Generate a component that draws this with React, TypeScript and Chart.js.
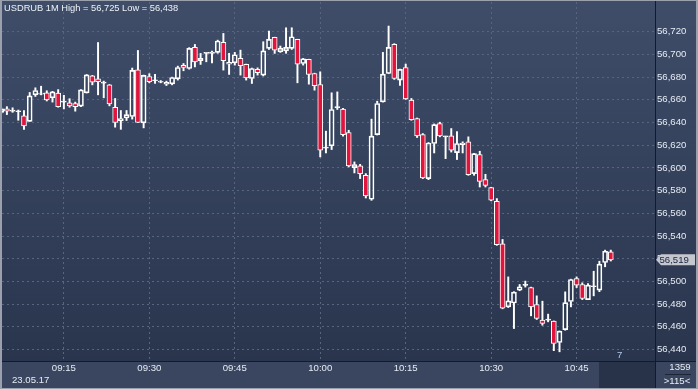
import React, { useEffect, useRef } from "react";
import { Chart, registerables } from "chart.js";

Chart.register(...registerables);

// ---------- data ----------
const times = [
  "09:04","09:05","09:06","09:07","09:08","09:09","09:10","09:11","09:12","09:13",
  "09:14","09:15","09:16","09:17","09:18","09:19","09:20","09:21","09:22","09:23",
  "09:24","09:25","09:26","09:27","09:28","09:29","09:30","09:31","09:32","09:33",
  "09:34","09:35","09:36","09:37","09:38","09:39","09:40","09:41","09:42","09:43",
  "09:44","09:45","09:46","09:47","09:48","09:49","09:50","09:51","09:52","09:53",
  "09:54","09:55","09:56","09:57","09:58","09:59","10:00","10:01","10:02","10:03",
  "10:04","10:05","10:06","10:07","10:08","10:09","10:10","10:11","10:12","10:13",
  "10:14","10:15","10:16","10:17","10:18","10:19","10:20","10:21","10:22","10:23",
  "10:24","10:25","10:26","10:27","10:28","10:29","10:30","10:31","10:32","10:33",
  "10:34","10:35","10:36","10:37","10:38","10:39","10:40","10:41","10:42","10:43",
  "10:44","10:45","10:46","10:47","10:48","10:49","10:50","10:51",
];

const opens = [
  56649, 56652, 56650, 56649.5, 56646, 56641, 56664.4, 56665.5, 56666.2, 56661.8,
  56666, 56658, 56657.4, 56656.8, 56654.4, 56666.2, 56681.2, 56678.5, 56674.7, 56673.2,
  56653.5, 56641.5, 56644, 56645.3, 56686.5, 56639.7, 56680.6, 56676.8, 56676, 56673.8,
  56674.1, 56678.5, 56690.3, 56687.6, 56706.2, 56694.4, 56700.9, 56701, 56701.8, 56710.6,
  56693, 56692.6, 56696.5, 56691.2, 56678.8, 56686.8, 56681.8, 56705.3, 56715, 56702.4,
  56703.2, 56705.3, 56713.2, 56692, 56695.6, 56683.2, 56673.5, 56617.4, 56619.4, 56653.2,
  56651.8, 56631.2, 56600.3, 56601.8, 56593.5, 56572.4, 56629.4, 56658.2, 56683.2, 56709,
  56677.4, 56688.5, 56659.7, 56643.5, 56629.4, 56590.6, 56621.5, 56639.1, 56627.4, 56628.2,
  56613.5, 56620.6, 56623, 56595, 56611.8, 56589.7, 56582.6, 56570.6, 56533.2, 56477.6,
  56481, 56492.4, 56496.5, 56494.6, 56479.7, 56465.9, 56465.9, 56465, 56446.2, 56457.6,
  56482.3, 56502.6, 56497.3, 56484, 56495.3, 56492.4, 56516.7, 56526,
];

const highs = [
  56653, 56654, 56653, 56651, 56650.5, 56666.5, 56670.6, 56672, 56668, 56667.5,
  56669, 56664, 56661, 56658, 56669, 56682.3, 56681.5, 56710.5, 56676.5, 56673.5,
  56661.2, 56650.6, 56650.6, 56688, 56703.5, 56681.8, 56683, 56682.5, 56677, 56676.5,
  56680, 56689.7, 56692, 56706, 56708.8, 56700.9, 56701.5, 56703, 56712.6, 56718.5,
  56701, 56701.8, 56703.8, 56691.5, 56688, 56688.2, 56711.2, 56720.6, 56715.2, 56707.4,
  56723.5, 56723.5, 56713.4, 56696.5, 56695.8, 56683.5, 56684.7, 56632.4, 56666.2, 56667,
  56652.5, 56633.2, 56605.3, 56603.2, 56595, 56643, 56658.8, 56701.8, 56725, 56709.5,
  56687, 56691.5, 56661.2, 56644, 56630.3, 56622.4, 56638.8, 56640.3, 56628, 56634.7,
  56632, 56623, 56627.4, 56612.8, 56614.7, 56594.4, 56583, 56573, 56537, 56504,
  56491, 56497.3, 56500.3, 56495, 56487.3, 56482.6, 56471.2, 56465.2, 56456.4, 56490.8,
  56502, 56504, 56498.8, 56498.2, 56509, 56517.8, 56527.6, 56527.6,
];

const lows = [
  56648, 56647, 56649, 56642, 56634, 56641, 56663, 56664.4, 56659, 56658,
  56653.5, 56652, 56653.5, 56650, 56654, 56666, 56673.2, 56664.4, 56661.8, 56654.7,
  56635.9, 56634, 56641.8, 56643, 56640, 56635.3, 56675, 56674.5, 56675, 56672.6,
  56673.2, 56677.4, 56685.6, 56687, 56689, 56691.2, 56693.5, 56692.6, 56701, 56686.2,
  56682.4, 56690.6, 56681.8, 56677.4, 56674.4, 56681.8, 56681, 56704.4, 56700.9, 56701.8,
  56701, 56704.4, 56675, 56690.6, 56673.8, 56668.5, 56609.7, 56613.2, 56616.2, 56651.5,
  56628, 56600.9, 56595.6, 56590.6, 56573.5, 56571.5, 56629, 56658, 56683, 56678,
  56672.6, 56660.3, 56642, 56626.8, 56590.6, 56589.7, 56613.2, 56627.4, 56608.2, 56614,
  56607.4, 56613.2, 56593.5, 56593.5, 56583.2, 56583.2, 56571, 56531.8, 56475.9, 56477,
  56458.5, 56491.8, 56495, 56469.7, 56466.5, 56461.4, 56464.4, 56439, 56438, 56457,
  56477.6, 56494.6, 56484, 56484, 56487.3, 56491, 56512.9, 56518,
];

const closes = [
  56652, 56650, 56650, 56649.5, 56637, 56663.5, 56668.2, 56665, 56660, 56667,
  56654, 56658, 56654.7, 56654, 56668.8, 56682, 56675.6, 56675.9, 56674.7, 56656.5,
  56640, 56643.5, 56647, 56685.9, 56640, 56681.5, 56675.9, 56676.8, 56675.5, 56675.5,
  56679.7, 56688.5, 56688.5, 56705.3, 56693.5, 56696.5, 56700.9, 56702, 56711.8, 56694.4,
  56691.5, 56699.7, 56690, 56679.4, 56687.6, 56684, 56703.2, 56713.2, 56703.8, 56705.6,
  56706.2, 56715.6, 56691.5, 56696.2, 56682.4, 56672.4, 56615.6, 56617.4, 56651.5, 56653.2,
  56629.4, 56601.8, 56603, 56595, 56575.3, 56628, 56656.8, 56682.6, 56706.2, 56678.8,
  56686.8, 56660.9, 56642.6, 56628.2, 56591.2, 56622, 56638.2, 56628.2, 56627.4, 56615.6,
  56621.5, 56622, 56594.1, 56612.6, 56588.2, 56584.7, 56571.5, 56532.4, 56476.5, 56482.9,
  56490.6, 56495.3, 56496.5, 56477.6, 56467.4, 56463, 56465.9, 56445.3, 56456.2, 56481.4,
  56501.7, 56496.8, 56485, 56496.8, 56495.3, 56515.2, 56526.6, 56519,
];

const xTickTimes = ["09:15", "09:30", "09:45", "10:00", "10:15", "10:30", "10:45"];
const yTickValues = [
  56440, 56460, 56480, 56500, 56520, 56540, 56560, 56580,
  56600, 56620, 56640, 56660, 56680, 56700, 56720,
];

const titleText = "USDRUB 1M High = 56,725 Low = 56,438";
const dateLabel = "23.05.17";
const cornerTop = "1359";
const cornerBottom = ">115<";
const markerText = "7";

// ---------- helpers ----------
const toMin = (t: string) => {
  const [h, m] = t.split(":").map(Number);
  return h * 60 + m;
};
const fmtMin = (v: number) => {
  const h = Math.floor(v / 60);
  const m = Math.round(v - h * 60);
  return String(h).padStart(2, "0") + ":" + String(m).padStart(2, "0");
};
const fmtNum = (v: number) => Number(v).toLocaleString("en-US");

const FONT = '"Liberation Sans", Arial, sans-serif';
const TEXT = "#e6ecf4";

const decorPlugin = {
  id: "decor",
  beforeDraw(chart: any) {
    const { ctx, chartArea: a, width: W, height: H } = chart;
    ctx.save();
    const g = ctx.createLinearGradient(0, 0, 0, H);
    g.addColorStop(0, "#3f4d69");
    g.addColorStop(1, "#28334b");
    ctx.fillStyle = g;
    ctx.fillRect(0, 0, W, H);
    ctx.fillStyle = "#3a4660";
    ctx.fillRect(0, a.bottom, W, H - a.bottom);
    ctx.fillStyle = "#283249";
    ctx.fillRect(599, a.bottom, a.right - 599, H - a.bottom);
    ctx.restore();
  },
  afterDraw(chart: any) {
    const { ctx, chartArea: a, width: W, height: H } = chart;
    ctx.save();
    // separators
    ctx.strokeStyle = "#141a27";
    ctx.lineWidth = 1;
    ctx.beginPath();
    ctx.moveTo(a.right + 0.5, 0);
    ctx.lineTo(a.right + 0.5, H);
    ctx.moveTo(0, a.bottom + 0.5);
    ctx.lineTo(W, a.bottom + 0.5);
    ctx.stroke();
    // frame
    ctx.fillStyle = "#9aa0ac";
    ctx.fillRect(0, 0, 2, H);
    ctx.fillRect(0, 0, W, 1);
    ctx.fillRect(0, H - 1, W, 1);
    ctx.fillRect(W - 2, 0, 2, H);

    // title
    ctx.font = "9.3px " + FONT;
    ctx.fillStyle = "#eef2f8";
    ctx.textBaseline = "middle";
    ctx.textAlign = "left";
    ctx.fillText(titleText, 4, 8.5);

    // date
    ctx.font = "9.6px " + FONT;
    ctx.fillStyle = TEXT;
    ctx.fillText(dateLabel, 12, 380);

    // marker
    ctx.fillStyle = "#b3ccf0";
    ctx.fillText(markerText, 617, 355);

    // last price label
    const last = closes[closes.length - 1];
    const y = chart.scales.y.getPixelForValue(last);
    ctx.fillStyle = "#c4c7ce";
    ctx.beginPath();
    ctx.moveTo(656, y);
    ctx.lineTo(661, y - 5.5);
    ctx.lineTo(695, y - 5.5);
    ctx.lineTo(695, y + 5.5);
    ctx.lineTo(661, y + 5.5);
    ctx.closePath();
    ctx.fill();
    ctx.fillStyle = "#1c2540";
    ctx.fillText(fmtNum(last), 659.5, y + 0.5);

    // corner box
    ctx.textAlign = "center";
    ctx.fillStyle = TEXT;
    ctx.fillText(cornerTop, 680, 367);
    ctx.fillText(cornerBottom, 677, 381);
    ctx.strokeStyle = "#1e2636";
    ctx.beginPath();
    ctx.moveTo(665, 374.5);
    ctx.lineTo(691, 374.5);
    ctx.stroke();
    ctx.restore();
  },
};

export default function App() {
  const ref = useRef<HTMLCanvasElement | null>(null);

  useEffect(() => {
    if (!ref.current) return;
    const xs = times.map(toMin);
    const bodies = xs.map((x, i) => ({ x, y: [opens[i], closes[i]] }));
    const upper = xs.map((x, i) => ({ x, y: [Math.max(opens[i], closes[i]), highs[i]] }));
    const lower = xs.map((x, i) => ({ x, y: [lows[i], Math.min(opens[i], closes[i])] }));
    const bodyColors = closes.map((c, i) => (c < opens[i] ? "#e0143c" : "rgba(0,0,0,0)"));

    const xMin = toMin("09:15") - 10.86;
    const xMax = toMin("09:15") + 103.76;
    const yMin = 56429.9;
    const yMax = 56746.2;

    const gridStyle = { color: "#59657f", drawTicks: false, offset: false, lineWidth: 1 };
    const borderStyle = { display: false, dash: [2, 3] };

    const chart = new Chart(ref.current, {
      type: "bar",
      data: {
        datasets: [
          {
            data: upper as any,
            backgroundColor: "#ffffff",
            borderWidth: 0,
            barThickness: 1.3,
            grouped: false,
          } as any,
          {
            data: lower as any,
            backgroundColor: "#ffffff",
            borderWidth: 0,
            barThickness: 1.3,
            grouped: false,
          } as any,
          {
            data: bodies as any,
            backgroundColor: bodyColors,
            borderColor: "#ffffff",
            borderWidth: 1,
            borderSkipped: false,
            barThickness: 5,
            minBarLength: 1,
            grouped: false,
          } as any,
        ],
      },
      options: {
        animation: false,
        responsive: false,
        devicePixelRatio: 1,
        events: [],
        layout: { padding: { left: 2, top: 2, right: 0, bottom: 0 } },
        plugins: { legend: { display: false }, tooltip: { enabled: false }, title: { display: false } },
        scales: {
          x: {
            type: "linear",
            position: "bottom",
            min: xMin,
            max: xMax,
            bounds: "data",
            offset: false,
            afterFit: (s: any) => {
              s.height = 28;
              s.paddingLeft = 0;
              s.paddingRight = 0;
            },
            afterBuildTicks: (s: any) => {
              s.ticks = xTickTimes.map((t) => ({ value: toMin(t) }));
            },
            ticks: {
              callback: (v: any) => fmtMin(Number(v)),
              color: TEXT,
              font: { family: FONT, size: 9.6 },
              padding: 2,
              maxRotation: 0,
              autoSkip: false,
            },
            grid: gridStyle,
            border: borderStyle,
          } as any,
          y: {
            type: "linear",
            position: "right",
            min: yMin,
            max: yMax,
            bounds: "data",
            afterFit: (s: any) => {
              s.width = 43;
              s.paddingTop = 0;
              s.paddingBottom = 0;
            },
            afterBuildTicks: (s: any) => {
              s.ticks = yTickValues.map((v) => ({ value: v }));
            },
            ticks: {
              callback: (v: any) => fmtNum(Number(v)),
              color: TEXT,
              font: { family: FONT, size: 9.6 },
              padding: 2,
              autoSkip: false,
            },
            grid: gridStyle,
            border: borderStyle,
          } as any,
        },
      },
      plugins: [decorPlugin as any],
    });
    return () => chart.destroy();
  }, []);

  return (
    <div style={{ position: "absolute", left: 0, top: 0, width: 698, height: 389 }}>
      <canvas ref={ref} width={698} height={389} style={{ width: 698, height: 389, display: "block" }} />
    </div>
  );
}
